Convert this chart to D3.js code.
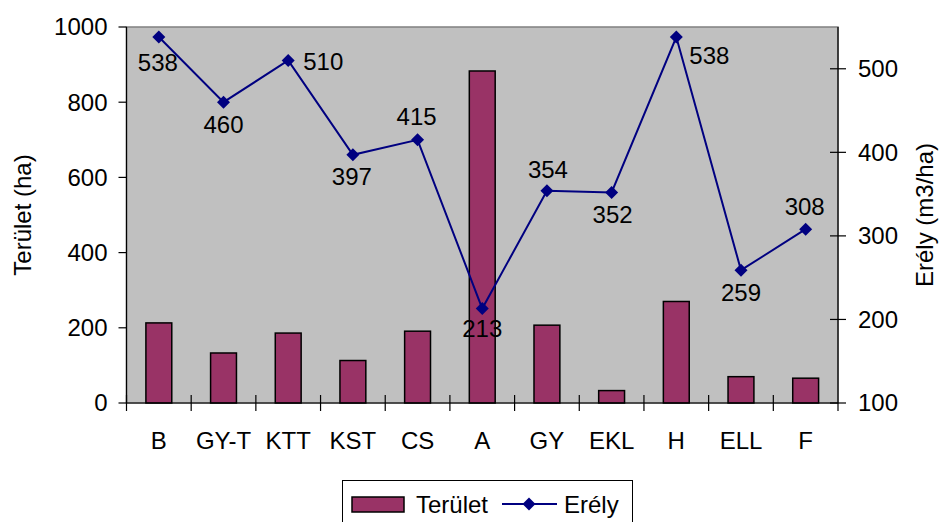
<!DOCTYPE html>
<html>
<head>
<meta charset="utf-8">
<script src="https://cdn.jsdelivr.net/npm/d3@7/dist/d3.min.js"></script>
<style>
html,body{margin:0;padding:0;background:#fff;}
svg{display:block;font-family:Arial,"Liberation Sans",sans-serif;}
</style>
</head>
<body>
<svg id="chart" width="940" height="522"></svg>
<script>
const categories = ["B","GY-T","KTT","KST","CS","A","GY","EKL","H","ELL","F"];
const teruletValues = [213,133,186,113,191,883,207,33,270,70,66];
const erelyValues = [538,460,510,397,415,213,354,352,538,259,308];
const leftTicks = [0,200,400,600,800,1000];
const rightTicks = [100,200,300,400,500];
const seriesNames = ["Terület","Erély"];
const axisTitles = ["Terület (ha)","Erély (m3/ha)"];
// label placement relative to marker: [anchor, dx, dy]
const labelPlacement = [
  ["middle",-1,34],["middle",0,31],["start",15,10],["middle",-1,30],["middle",-1,-15],
  ["middle",0,28],["middle",1,-13],["middle",1,31],["start",13,27],["middle",0,31],["middle",-1,-14]
];

const svg = d3.select("#chart");
const X0 = 126.5, X1 = 838, Y0 = 27, Y1 = 403;
const FS = 24;

const x = d3.scaleBand().domain(categories).range([X0, X1]).paddingInner(0).paddingOuter(0);
const yL = d3.scaleLinear().domain([0,1000]).range([Y1, Y0]);
const yR = d3.scaleLinear().domain([100,550]).range([Y1, Y0]);

// plot area
svg.append("rect").attr("x",X0).attr("y",Y0).attr("width",X1-X0).attr("height",Y1-Y0)
  .attr("fill","#C0C0C0").attr("stroke","#808080").attr("stroke-width",1.5);

// bars
const bw = x.bandwidth()/2.5;
svg.append("g").selectAll("rect").data(teruletValues).join("rect")
  .attr("x",(d,i)=>x(categories[i])+x.bandwidth()/2-bw/2)
  .attr("y",d=>yL(d))
  .attr("width",bw)
  .attr("height",d=>Y1-yL(d))
  .attr("fill","#993366").attr("stroke","#000").attr("stroke-width",1.5);

// axes lines
svg.append("line").attr("x1",X0).attr("x2",X0).attr("y1",Y0).attr("y2",Y1).attr("stroke","#000").attr("stroke-width",1.2);
svg.append("line").attr("x1",X1).attr("x2",X1).attr("y1",Y0).attr("y2",Y1+8).attr("stroke","#000").attr("stroke-width",1.2);
svg.append("line").attr("x1",X0).attr("x2",X1).attr("y1",Y1).attr("y2",Y1).attr("stroke","#000").attr("stroke-width",1.2);

// left axis
const gl = svg.append("g");
leftTicks.forEach(t=>{
  gl.append("line").attr("x1",X0-8).attr("x2",X0).attr("y1",yL(t)).attr("y2",yL(t)).attr("stroke","#000").attr("stroke-width",1.2);
  gl.append("text").attr("x",X0-19).attr("y",yL(t)).attr("dy","0.35em").attr("text-anchor","end")
    .attr("font-size",FS).attr("fill","#000").text(t);
});
// right axis
const gr = svg.append("g");
rightTicks.forEach(t=>{
  gr.append("line").attr("x1",X1-8).attr("x2",X1+8).attr("y1",yR(t)).attr("y2",yR(t)).attr("stroke","#000").attr("stroke-width",1.2);
  gr.append("text").attr("x",X1+20).attr("y",yR(t)).attr("dy","0.35em").attr("text-anchor","start")
    .attr("font-size",FS).attr("fill","#000").text(t);
});
// x axis
const gx = svg.append("g");
categories.forEach((c,i)=>{
  gx.append("line").attr("x1",x(c)).attr("x2",x(c)).attr("y1",Y1-8).attr("y2",Y1+8).attr("stroke","#000").attr("stroke-width",1.2);
  gx.append("text").attr("x",x(c)+x.bandwidth()/2).attr("y",449).attr("text-anchor","middle")
    .attr("font-size",FS).attr("fill","#000").text(c);
});

// axis titles
svg.append("text").attr("transform",`translate(31,${(Y0+Y1)/2}) rotate(-90)`).attr("text-anchor","middle")
  .attr("font-size",FS).attr("fill","#000").text(axisTitles[0]);
svg.append("text").attr("transform",`translate(933,${(Y0+Y1)/2}) rotate(-90)`).attr("text-anchor","middle")
  .attr("font-size",FS).attr("fill","#000").text(axisTitles[1]);

// line
const cx = (d,i)=>x(categories[i])+x.bandwidth()/2;
const line = d3.line().x((d,i)=>cx(d,i)).y(d=>yR(d));
svg.append("path").datum(erelyValues).attr("d",line).attr("fill","none")
  .attr("stroke","#000080").attr("stroke-width",2);
const diamond = s => `M0,${-s}L${s},0L0,${s}L${-s},0Z`;
svg.append("g").selectAll("path").data(erelyValues).join("path")
  .attr("transform",(d,i)=>`translate(${cx(d,i)},${yR(d)})`)
  .attr("d",diamond(6.5)).attr("fill","#000080");
svg.append("g").selectAll("text").data(erelyValues).join("text")
  .attr("x",(d,i)=>cx(d,i)+labelPlacement[i][1])
  .attr("y",(d,i)=>yR(d)+labelPlacement[i][2])
  .attr("text-anchor",(d,i)=>labelPlacement[i][0])
  .attr("font-size",FS).attr("fill","#000").text(d=>d);

// legend
const lg = svg.append("g");
lg.append("rect").attr("x",342.5).attr("y",480.5).attr("width",290).attr("height",52)
  .attr("fill","#fff").attr("stroke","#000").attr("stroke-width",1);
lg.append("rect").attr("x",352).attr("y",497).attr("width",52).attr("height",15)
  .attr("fill","#993366").attr("stroke","#000").attr("stroke-width",1.5);
lg.append("text").attr("x",416).attr("y",513).attr("font-size",FS).attr("fill","#000").text(seriesNames[0]);
lg.append("line").attr("x1",502).attr("x2",557).attr("y1",504).attr("y2",504).attr("stroke","#000080").attr("stroke-width",2);
lg.append("path").attr("transform","translate(529,504)").attr("d",diamond(6.5)).attr("fill","#000080");
lg.append("text").attr("x",564).attr("y",513).attr("font-size",FS).attr("fill","#000").text(seriesNames[1]);
</script>
</body>
</html>
